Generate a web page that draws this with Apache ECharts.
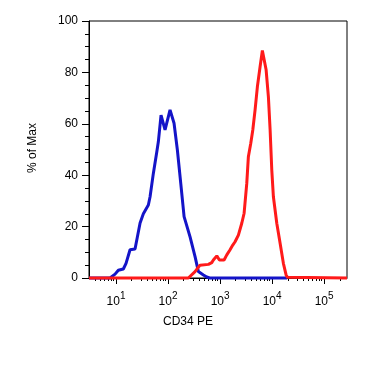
<!DOCTYPE html>
<html>
<head>
<meta charset="utf-8">
<script src="https://cdn.jsdelivr.net/npm/echarts@6/dist/echarts.min.js"></script>
<style>html,body{margin:0;padding:0;background:#fff;}#c{width:390px;height:372px;}</style>
</head>
<body>
<div id="c"></div>
<script>
// x values are log10 of CD34 PE intensity; y is % of Max
var blueLogX = [0.48, 0.885, 0.917, 0.981, 1.044, 1.140, 1.192, 1.269, 1.365, 1.462, 1.525, 1.621, 1.654, 1.717, 1.783, 1.813, 1.865, 1.942, 2.038, 2.115, 2.179, 2.244, 2.308, 2.423, 2.519, 2.583, 2.679, 2.744, 2.80, 4.29];
var blueY    = [0,    0,     0.5,   1.5,   3,     3.5,   5.7,   11,    11.3,  21.4,  25,    28.4,  31.6,  40.7,  49,    53,    63.4,  57.6,  65.4,  60.2,  49.8,  36.8,  23.9,  16,    8.3,   2.5,   1.2,   0.4,   0,    0];
var redLogX  = [0.48, 2.39, 2.423, 2.519, 2.583, 2.615, 2.775, 2.840, 2.871, 2.937, 2.987, 3.077, 3.129, 3.192, 3.244, 3.288, 3.352, 3.417, 3.462, 3.513, 3.544, 3.590, 3.629, 3.673, 3.717, 3.769, 3.813, 3.885, 3.929, 3.962, 3.994, 4.025, 4.090, 4.154, 4.217, 4.269, 4.294, 4.327, 5.44];
var redY     = [0,    0,    0.5,   2.5,   4.2,   5,     5.3,   6,     7,     8.6,   7,     7,     9,     11,    12.8,  14.1,  16.7,  21.3,  25.2,  36.8,  47.2,  52.4,  57.6,  65.4,  74.4,  82.2,  88.5,  81,    70.5,  57.6,  42,    31.6,  21.3,  13.5,  5.7,   1.2,   0.3,   0,     0];
var xDecades = [1, 2, 3, 4, 5];
var xTickBase = ['10', '10', '10', '10', '10'];
var xTickExp  = ['1', '2', '3', '4', '5'];
var yTicks = [0, 20, 40, 60, 80, 100];
var xMin = 0.48, xMax = 5.44;

function pairs(xs, ys) { return xs.map(function (x, i) { return [x, ys[i]]; }); }
var minorTicks = [];
for (var n = 0; n <= 5; n++) {
  for (var k = 2; k <= 9; k++) {
    var v = n + Math.log10(k);
    if (v > xMin && v < xMax) minorTicks.push(v);
  }
}
var font = 'Liberation Sans, Arial, sans-serif';
var chart = echarts.init(document.getElementById('c'), null, { renderer: 'canvas' });
chart.setOption({
  animation: false,
  backgroundColor: '#fff',
  grid: { left: 89, top: 21, right: 43, bottom: 94, show: true, borderColor: '#000', borderWidth: 1, containLabel: false },
  xAxis: [{
    type: 'value', min: xMin, max: xMax, position: 'bottom',
    axisLine: { show: true, lineStyle: { color: '#000', width: 1 } },
    axisTick: { show: true, length: 6, customValues: xDecades, lineStyle: { color: '#000' } },
    axisLabel: {
      show: true, customValues: xDecades, margin: 10, color: '#000', fontFamily: font,
      formatter: function (v) {
        var i = xDecades.indexOf(Math.round(v));
        return '{b|' + xTickBase[i] + '}{s|' + xTickExp[i] + '}';
      },
      rich: {
        b: { fontSize: 12, fontFamily: font, color: '#000', padding: [8, 0, 0, 0] },
        s: { fontSize: 10, fontFamily: font, color: '#000', padding: [0, 0, 4, 0] }
      }
    },
    splitLine: { show: false }
  }, {
    type: 'value', min: xMin, max: xMax, position: 'bottom',
    axisLine: { show: false },
    axisTick: { show: true, length: 3, customValues: minorTicks, lineStyle: { color: '#000' } },
    axisLabel: { show: false },
    splitLine: { show: false }
  }],
  yAxis: {
    type: 'value', min: 0, max: 100, interval: 20,
    axisLine: { show: true, lineStyle: { color: '#000' } },
    axisTick: { show: true, length: 7, lineStyle: { color: '#000' } },
    minorTick: { show: true, splitNumber: 4, length: 4, lineStyle: { color: '#000' } },
    axisLabel: { color: '#000', fontSize: 12, fontFamily: font, margin: 11,
      customValues: yTicks },
    splitLine: { show: false }
  },
  graphic: [
    { type: 'text', x: 33, y: 148, rotation: Math.PI / 2,
      style: { text: '% of Max', fontSize: 12, fontFamily: font, fill: '#000', align: 'center', verticalAlign: 'middle' } },
    { type: 'text', x: 188, y: 322,
      style: { text: 'CD34 PE', fontSize: 12, fontFamily: font, fill: '#000', align: 'center', verticalAlign: 'middle' } }
  ],
  series: [{
    type: 'line', xAxisIndex: 0, data: pairs(blueLogX, blueY), showSymbol: false, symbol: 'none', clip: false,
    lineStyle: { color: '#1414c8', width: 3 }, z: 2
  }, {
    type: 'line', xAxisIndex: 0, data: pairs(redLogX, redY), showSymbol: false, symbol: 'none', clip: false,
    lineStyle: { color: '#ff1a1a', width: 3 }, z: 3
  }]
});
</script>
</body>
</html>
